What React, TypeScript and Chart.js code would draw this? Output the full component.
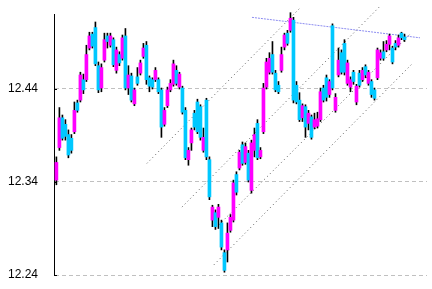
import React, { useEffect, useRef } from "react";
import { Chart, registerables } from "chart.js";

Chart.register(...registerables);

// OHLC values (price), one per session
const opens = [
  12.342, 12.377, 12.409, 12.402, 12.391, 12.387, 12.394, 12.425, 12.428, 12.450,
  12.450, 12.484, 12.499, 12.506, 12.465, 12.441, 12.471, 12.497, 12.487, 12.493,
  12.460, 12.477, 12.473, 12.497, 12.441, 12.454, 12.424, 12.453, 12.457, 12.475,
  12.487, 12.452, 12.450, 12.450, 12.450, 12.439, 12.402, 12.422, 12.439, 12.445,
  12.460, 12.442, 12.441, 12.417, 12.364, 12.382, 12.414, 12.426, 12.421, 12.374,
  12.428, 12.364, 12.299, 12.307, 12.302, 12.296, 12.264, 12.267, 12.288, 12.299,
  12.348, 12.355, 12.380, 12.361, 12.371, 12.331, 12.374, 12.403, 12.367, 12.394,
  12.442, 12.458, 12.477, 12.457, 12.444, 12.460, 12.485, 12.500, 12.503, 12.514,
  12.444, 12.428, 12.409, 12.421, 12.403, 12.410, 12.399, 12.400, 12.407, 12.441,
  12.452, 12.434, 12.508, 12.417, 12.455, 12.479, 12.489, 12.446, 12.442, 12.458,
  12.426, 12.457, 12.450, 12.464, 12.446, 12.448, 12.439, 12.452, 12.473, 12.480,
  12.482, 12.488, 12.484, 12.489, 12.487, 12.500, 12.496,
];
const highs = [
  12.367, 12.420, 12.412, 12.407, 12.396, 12.391, 12.426, 12.428, 12.458, 12.456,
  12.487, 12.501, 12.501, 12.512, 12.469, 12.467, 12.500, 12.500, 12.500, 12.495,
  12.485, 12.480, 12.498, 12.505, 12.465, 12.457, 12.441, 12.463, 12.471, 12.489,
  12.491, 12.454, 12.452, 12.463, 12.452, 12.441, 12.420, 12.442, 12.450, 12.471,
  12.465, 12.458, 12.443, 12.420, 12.377, 12.398, 12.417, 12.429, 12.423, 12.398,
  12.430, 12.367, 12.315, 12.310, 12.316, 12.299, 12.267, 12.296, 12.305, 12.342,
  12.351, 12.374, 12.383, 12.382, 12.374, 12.385, 12.398, 12.407, 12.377, 12.446,
  12.473, 12.479, 12.491, 12.460, 12.448, 12.485, 12.500, 12.503, 12.522, 12.517,
  12.448, 12.436, 12.424, 12.423, 12.417, 12.412, 12.414, 12.415, 12.441, 12.444,
  12.455, 12.450, 12.510, 12.435, 12.484, 12.482, 12.493, 12.471, 12.453, 12.460,
  12.445, 12.460, 12.463, 12.466, 12.460, 12.450, 12.441, 12.484, 12.482, 12.491,
  12.492, 12.499, 12.486, 12.492, 12.498, 12.501, 12.499,
];
const lows = [
  12.337, 12.374, 12.385, 12.385, 12.366, 12.371, 12.392, 12.415, 12.426, 12.435,
  12.448, 12.482, 12.484, 12.465, 12.436, 12.437, 12.469, 12.484, 12.485, 12.464,
  12.457, 12.465, 12.471, 12.439, 12.434, 12.426, 12.422, 12.444, 12.455, 12.473,
  12.445, 12.437, 12.440, 12.448, 12.435, 12.388, 12.400, 12.420, 12.437, 12.443,
  12.444, 12.440, 12.413, 12.364, 12.358, 12.374, 12.396, 12.392, 12.385, 12.372,
  12.364, 12.321, 12.292, 12.289, 12.290, 12.267, 12.243, 12.254, 12.286, 12.297,
  12.326, 12.353, 12.358, 12.359, 12.340, 12.328, 12.367, 12.364, 12.365, 12.392,
  12.440, 12.456, 12.456, 12.437, 12.435, 12.458, 12.482, 12.487, 12.501, 12.425,
  12.424, 12.405, 12.405, 12.388, 12.396, 12.386, 12.397, 12.398, 12.405, 12.426,
  12.427, 12.431, 12.439, 12.415, 12.453, 12.456, 12.455, 12.444, 12.437, 12.445,
  12.423, 12.442, 12.448, 12.452, 12.444, 12.431, 12.428, 12.450, 12.471, 12.471,
  12.480, 12.482, 12.467, 12.482, 12.485, 12.493, 12.491,
];
const closes = [
  12.361, 12.409, 12.387, 12.389, 12.369, 12.374, 12.417, 12.417, 12.455, 12.439,
  12.477, 12.497, 12.486, 12.467, 12.439, 12.463, 12.493, 12.491, 12.497, 12.466,
  12.482, 12.468, 12.495, 12.441, 12.455, 12.428, 12.439, 12.446, 12.468, 12.484,
  12.450, 12.443, 12.442, 12.460, 12.437, 12.399, 12.417, 12.439, 12.446, 12.467,
  12.446, 12.456, 12.415, 12.366, 12.374, 12.396, 12.399, 12.394, 12.388, 12.388,
  12.367, 12.324, 12.313, 12.292, 12.313, 12.270, 12.245, 12.285, 12.302, 12.339,
  12.329, 12.372, 12.360, 12.378, 12.342, 12.382, 12.391, 12.366, 12.374, 12.441,
  12.469, 12.473, 12.458, 12.439, 12.437, 12.477, 12.498, 12.489, 12.516, 12.428,
  12.426, 12.407, 12.422, 12.399, 12.414, 12.388, 12.407, 12.408, 12.437, 12.428,
  12.431, 12.448, 12.441, 12.431, 12.471, 12.458, 12.458, 12.468, 12.450, 12.448,
  12.443, 12.444, 12.460, 12.455, 12.458, 12.434, 12.430, 12.482, 12.479, 12.473,
  12.488, 12.497, 12.469, 12.485, 12.495, 12.495, 12.493,
];

// Y axis ticks
const yTickValues = [12.24, 12.34, 12.44];
const yTickLabels = ["12.24", "12.34", "12.44"];

// Trend / channel lines: [session index, price]
const channelA = [[30.17, 12.36], [81.17, 12.527]];
const channelB = [[41.83, 12.313], [108.17, 12.53]];
const channelC = [[54.17, 12.294], [118.17, 12.5]];
const channelD = [[52.5, 12.251], [118.83, 12.468]];
const resistance = [[65.17, 12.517], [121.17, 12.495]];

const UP = "#ff00ff";
const DOWN = "#00c8ff";

const tickMarks = {
  id: "tickMarks",
  afterDraw(chart: any) {
    const ys = chart.scales.y;
    const ctx = chart.ctx;
    ctx.save();
    ctx.strokeStyle = "#000";
    ctx.lineWidth = 1;
    for (const v of yTickValues) {
      const py = Math.round(ys.getPixelForValue(v)) + 0.5;
      ctx.beginPath();
      ctx.moveTo(ys.right, py);
      ctx.lineTo(ys.right + 3, py);
      ctx.stroke();
    }
    ctx.restore();
  },
};

const toPts = (arr: number[][]) => arr.map(([x, y]) => ({ x, y }));

export default function App() {
  const ref = useRef<HTMLCanvasElement | null>(null);
  useEffect(() => {
    if (!ref.current) return;
    const idx = opens.map((_, i) => i);
    const bodies = idx.map((i) => ({ x: i, y: [opens[i], closes[i]] }));
    const wicks = idx.map((i) => ({ x: i, y: [lows[i], highs[i]] }));
    const bodyColors = idx.map((i) => (closes[i] >= opens[i] ? UP : DOWN));
    const lineDs = (data: number[][], color: string, dash: number[]) => ({
      type: "line" as const,
      data: toPts(data),
      borderColor: color,
      borderWidth: 1,
      borderDash: dash,
      pointRadius: 0,
      fill: false,
      clip: false as any,
      order: 3,
    });
    const chart = new Chart(ref.current, {
      type: "bar",
      data: {
        datasets: [
          {
            type: "bar",
            data: bodies as any,
            backgroundColor: bodyColors,
            borderWidth: 0,
            barThickness: 3,
            grouped: false,
            clip: false as any,
            order: 0,
          } as any,
          {
            type: "bar",
            data: wicks as any,
            backgroundColor: "#000",
            borderWidth: 0,
            barThickness: 1,
            grouped: false,
            clip: false as any,
            order: 1,
          } as any,
          lineDs(channelA, "#5a5a5a", [1, 3]),
          lineDs(channelB, "#5a5a5a", [1, 3]),
          lineDs(channelC, "#5a5a5a", [1, 3]),
          lineDs(channelD, "#5a5a5a", [1, 3]),
          lineDs(resistance, "#8c8cf0", [2, 1]),
        ],
      },
      options: {
        animation: false,
        responsive: false,
        devicePixelRatio: 1,
        layout: { padding: { top: 14, bottom: 14, left: 0, right: 5 } },
        plugins: { legend: { display: false }, tooltip: { enabled: false } },
        scales: {
          x: {
            type: "linear",
            display: false,
            min: -0.8,
            max: 123.5,
            offset: false,
          },
          y: {
            min: 12.24,
            max: 12.5206,
            afterFit: (s: any) => {
              s.width = 54;
              s.paddingTop = 0;
              s.paddingBottom = 0;
            },
            afterBuildTicks: (s: any) => {
              s.ticks = yTickValues.map((v) => ({ value: v }));
            },
            ticks: {
              padding: 16,
              color: "#000",
              font: { family: "'Liberation Sans Narrow', 'Liberation Sans', sans-serif", size: 12 },
              callback: (v: any) => {
                const k = yTickValues.findIndex((t) => Math.abs(t - Number(v)) < 1e-6);
                return k >= 0 ? yTickLabels[k] : "";
              },
            },
            grid: { color: "#c0c0c0", drawTicks: false, lineWidth: 1 },
            border: { display: true, color: "#000", width: 1, dash: [4, 3] },
          },
        },
      },
      plugins: [tickMarks],
    } as any);
    return () => chart.destroy();
  }, []);
  return (
    <div style={{ position: "absolute", left: 0, top: 0, width: 432, height: 289, background: "#fff" }}>
      <canvas ref={ref} width={432} height={289} style={{ display: "block" }} />
    </div>
  );
}
